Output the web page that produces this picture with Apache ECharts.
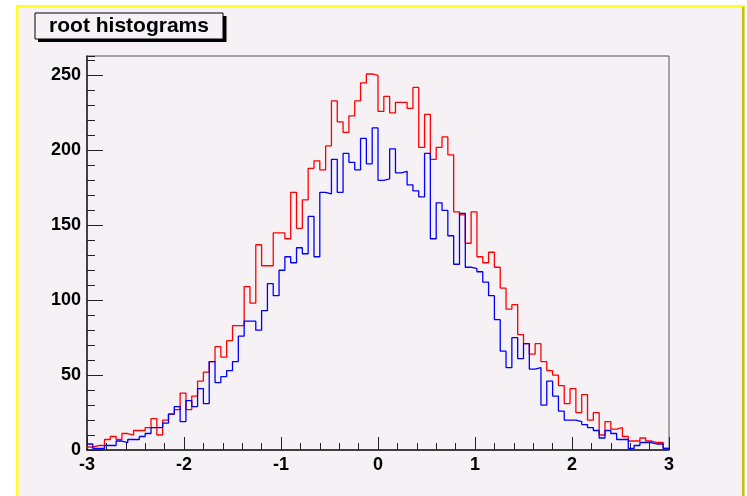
<!DOCTYPE html>
<html>
<head>
<meta charset="utf-8">
<title>root histograms</title>
<script src="https://cdn.jsdelivr.net/npm/echarts@6/dist/echarts.min.js"></script>
<style>
  html, body { margin: 0; padding: 0; background: #fff; }
  #main { width: 747px; height: 496px; }
</style>
</head>
<body>
<div id="main"></div>
<script>
// histogram range: 100 bins from -3 to 3
var xMin = -3;
var xMax = 3;
var binWidth = 0.06;

// bin contents
var redCounts = [
  2, 3, 3, 7, 9, 7, 11, 10, 13, 13,
  15, 21, 10, 20, 24, 27, 38, 27, 36, 46,
  52, 59, 69, 62, 73, 83, 83, 109, 98, 137,
  123, 123, 145, 145, 141, 172, 148, 167, 188, 193,
  187, 203, 233, 219, 212, 223, 233, 245, 251, 250,
  226, 236, 225, 232, 232, 228, 242, 202, 224, 194,
  202, 209, 197, 159, 157, 138, 159, 129, 125, 132,
  122, 108, 94, 97, 77, 71, 64, 71, 59, 53,
  50, 43, 31, 41, 25, 37, 20, 25, 10, 19,
  14, 15, 9, 6, 6, 8, 6, 5, 5, 1
];
var blueCounts = [
  4, 1, 1, 3, 3, 6, 5, 7, 7, 9,
  11, 15, 15, 18, 24, 29, 19, 33, 29, 41,
  31, 59, 45, 49, 53, 59, 76, 86, 86, 80,
  93, 111, 103, 120, 129, 125, 135, 131, 156, 129,
  172, 171, 194, 172, 198, 192, 187, 208, 191, 215,
  180, 181, 201, 185, 186, 177, 173, 169, 198, 141,
  165, 160, 143, 124, 158, 122, 121, 119, 112, 103,
  87, 66, 55, 75, 61, 71, 54, 55, 30, 46,
  36, 26, 20, 20, 19, 17, 15, 13, 8, 13,
  11, 7, 7, 1, 3, 5, 5, 4, 4, 1
];

var xTickLabels = ['-3', '-2', '-1', '0', '1', '2', '3'];
var yTickLabels = ['0', '50', '100', '150', '200', '250'];

var bg = '#f5f1f5';
var labelFont = {
  fontFamily: 'Liberation Sans, Arial, sans-serif',
  fontWeight: 'bold',
  fontSize: 18,
  color: '#000'
};

// step outline: one point per bin edge, last bin closed at xMax
function toSteps(counts) {
  var pts = [];
  for (var i = 0; i < counts.length; i++) {
    pts.push([xMin + i * binWidth, counts[i]]);
  }
  pts.push([xMax, counts[counts.length - 1]]);
  return pts;
}

var chart = echarts.init(document.getElementById('main'), null, { renderer: 'canvas' });

var plot = { left: 87, right: 78, top: 56, bottom: 46 };

var option = {
  animation: false,
  grid: [
    Object.assign({ show: true, borderColor: '#555', borderWidth: 1, backgroundColor: 'transparent' }, plot),
    Object.assign({ show: false }, plot)   // only carries the minor y ticks
  ],
  xAxis: [
    {
      type: 'value',
      gridIndex: 0,
      min: xMin,
      max: xMax,
      interval: 1,
      axisLine: { onZero: false, lineStyle: { color: '#222', width: 1.5 } },
      axisTick: { inside: true, length: 13, lineStyle: { color: '#222' } },
      minorTick: { show: true, splitNumber: 5, length: 7, lineStyle: { color: '#222' } },
      axisLabel: Object.assign({
        margin: 6,
        formatter: function (v) {
          var k = Math.round(v - xMin);
          return xTickLabels[k] !== undefined ? xTickLabels[k] : '';
        }
      }, labelFont),
      splitLine: { show: false }
    },
    {
      type: 'value', gridIndex: 1, min: xMin, max: xMax, show: false
    }
  ],
  yAxis: [
    {
      type: 'value',
      gridIndex: 0,
      min: 0,
      max: 263,
      interval: 50,
      axisLine: { show: true, onZero: false, lineStyle: { color: '#222', width: 1.5 } },
      axisTick: { inside: true, length: 16, lineStyle: { color: '#222' } },
      axisLabel: Object.assign({
        margin: 6,
        showMaxLabel: false,
        formatter: function (v) {
          var s = String(v);
          return yTickLabels.indexOf(s) >= 0 ? s : '';
        }
      }, labelFont),
      splitLine: { show: false }
    },
    {
      type: 'value',
      gridIndex: 1,
      min: 0,
      max: 263,
      interval: 10,
      axisLine: { show: false, onZero: false },
      axisTick: { inside: true, length: 8, lineStyle: { color: '#222' } },
      axisLabel: { show: false },
      splitLine: { show: false }
    }
  ],
  graphic: [
    // pad fill and its yellow bevel
    { type: 'rect', z: -10, shape: { x: 16, y: 5, width: 729, height: 495 }, style: { fill: bg } },
    { type: 'rect', z: -9, shape: { x: 16, y: 5, width: 729, height: 2.5 }, style: { fill: '#ffff22' } },
    { type: 'rect', z: -9, shape: { x: 16, y: 5, width: 2.5, height: 495 }, style: { fill: '#ffff22' } },
    { type: 'rect', z: -9, shape: { x: 742, y: 7, width: 2.5, height: 493 }, style: { fill: '#c4c400' } },
    // title box with shadow
    { type: 'rect', z: 20, shape: { x: 38, y: 16, width: 188.5, height: 26 }, style: { fill: '#000' } },
    { type: 'rect', z: 21, shape: { x: 35, y: 13, width: 188, height: 26 }, style: { fill: bg, stroke: '#000', lineWidth: 1 } },
    {
      type: 'text', z: 22, x: 129, y: 26,
      style: {
        text: 'root histograms',
        font: 'bold 21px "Liberation Sans", Arial, sans-serif',
        fill: '#000',
        textAlign: 'center',
        textVerticalAlign: 'middle'
      }
    }
  ],
  series: [
    {
      name: 'red',
      type: 'line',
      xAxisIndex: 0,
      yAxisIndex: 0,
      step: 'end',
      symbol: 'none',
      lineStyle: { color: '#ff0000', width: 1.3 },
      data: toSteps(redCounts)
    },
    {
      name: 'blue',
      type: 'line',
      xAxisIndex: 0,
      yAxisIndex: 0,
      step: 'end',
      symbol: 'none',
      lineStyle: { color: '#0000ff', width: 1.3 },
      data: toSteps(blueCounts)
    }
  ]
};

chart.setOption(option);
</script>
</body>
</html>
